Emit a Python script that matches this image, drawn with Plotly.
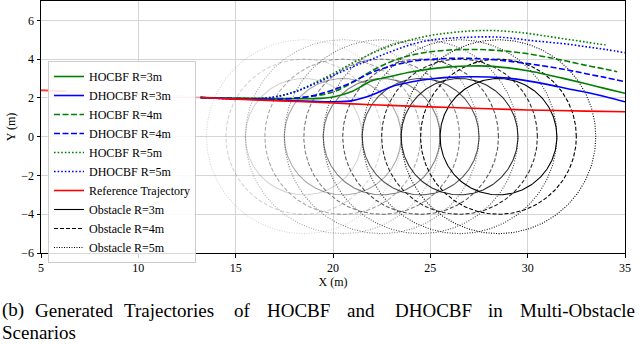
import numpy as np
import plotly.graph_objects as go

# trajectories (x in m, y in m)
traj_x = [13.2, 14, 15, 16, 17, 18, 19, 20, 21, 22, 23, 24, 25, 26, 27, 28, 29, 30, 31, 32, 33, 34, 35]
hocbf_r3 = [2.02, 2.0, 1.98, 1.97, 1.96, 1.96, 1.96, 2.05, 2.35, 2.88, 3.12, 3.34, 3.5, 3.6, 3.65, 3.64, 3.55, 3.4, 3.2, 2.97, 2.73, 2.48, 2.24]
dhocbf_r3 = [2.02, 1.99, 1.95, 1.92, 1.88, 1.85, 1.82, 1.8, 1.86, 2.15, 2.58, 2.82, 2.98, 3.06, 3.09, 3.08, 3.02, 2.88, 2.7, 2.49, 2.29, 2.06, 1.8]
hocbf_r4 = [2.02, 2.0, 1.98, 1.97, 1.97, 1.98, 2.1, 2.3, 2.8, 3.4, 3.88, 4.2, 4.38, 4.47, 4.5, 4.48, 4.4, 4.28, 4.1, 3.9, 3.68, 3.48, 3.35]
hocbf_r4_x = traj_x[:-1] + [34.6]
dhocbf_r4 = [2.02, 2.0, 1.97, 1.95, 1.93, 1.98, 2.12, 2.41, 2.82, 3.32, 3.65, 3.88, 3.99, 4.04, 4.04, 4.0, 3.9, 3.77, 3.62, 3.45, 3.25, 3.05, 2.84]
hocbf_r5 = [2.02, 2.0, 1.98, 1.98, 2.05, 2.3, 2.75, 3.25, 3.8, 4.3, 4.7, 5.0, 5.22, 5.36, 5.45, 5.48, 5.43, 5.33, 5.18, 5.03, 4.88, 4.73]
hocbf_r5_x = traj_x[:-1]
dhocbf_r5 = [2.02, 1.98, 1.94, 1.94, 2.05, 2.3, 2.7, 3.15, 3.6, 4.0, 4.4, 4.75, 4.98, 5.08, 5.13, 5.15, 5.1, 4.98, 4.88, 4.78, 4.64, 4.5, 4.33]

ref_x = [13.2, 15, 17, 20, 22, 25, 28, 30, 33, 35]
ref_y = [2.02, 1.94, 1.86, 1.74, 1.65, 1.54, 1.44, 1.38, 1.32, 1.29]
ref_hist_x = [5, 6.3, 13.2]
ref_hist_y = [2.4, 2.34, 2.02]

# obstacles: centre moves along x, y = 0
obs_cx = [18.5, 20.5, 22.5, 24.5, 26.5, 28.5]
obs_cy = 0
obs_radii = [3, 4, 5]

caption_1 = ["(b)", "Generated", "Trajectories", "of", "HOCBF", "and", "DHOCBF", "in", "Multi-Obstacle"]
caption_2 = ["Scenarios"]

FONT = "Liberation Serif, Times New Roman, serif"
W, H = 640, 344
ML, MR, MT, MB = 41, 15, 1, 91
PW, PH = W - ML - MR, H - MT - MB

fig = go.Figure()

obs_dash = {3: "solid", 4: "4px,2px", 5: "1px,1.5px"}
theta = np.linspace(0, 2 * np.pi, 240)
for r in obs_radii:
    n = len(obs_cx)
    for k, cx in enumerate(obs_cx):
        a = (k + 1) / n
        last = k == n - 1
        fig.add_trace(go.Scatter(
            x=cx + r * np.cos(theta), y=obs_cy + r * np.sin(theta), mode="lines",
            line=dict(color=f"rgba(0,0,0,{a:.3f})", width=1.1, dash=obs_dash[r]),
            name=f"Obstacle R={r}m", showlegend=last, legendrank=100 + r,
            hoverinfo="skip"))

fig.add_trace(go.Scatter(x=ref_hist_x[:2], y=ref_hist_y[:2], mode="lines",
                         line=dict(color="rgba(255,0,0,0.75)", width=2), showlegend=False))
fig.add_trace(go.Scatter(x=ref_hist_x[1:], y=ref_hist_y[1:], mode="lines",
                         line=dict(color="rgba(255,0,0,0.2)", width=2.5), showlegend=False))

series = [
    ("HOCBF R=3m", traj_x, hocbf_r3, "green", "solid"),
    ("DHOCBF R=3m", traj_x, dhocbf_r3, "blue", "solid"),
    ("HOCBF R=4m", hocbf_r4_x, hocbf_r4, "green", "6px,2.5px"),
    ("DHOCBF R=4m", traj_x, dhocbf_r4, "blue", "6px,2.5px"),
    ("HOCBF R=5m", hocbf_r5_x, hocbf_r5, "green", "1.6px,2px"),
    ("DHOCBF R=5m", traj_x, dhocbf_r5, "blue", "1.6px,2px"),
]
for i, (name, xs, ys, col, dash) in enumerate(series):
    fig.add_trace(go.Scatter(x=xs, y=ys, mode="lines", name=name, legendrank=i + 1,
                             line=dict(color=col, width=1.6, dash=dash, shape="spline")))

fig.add_trace(go.Scatter(x=ref_x, y=ref_y, mode="lines", name="Reference Trajectory",
                         legendrank=50, line=dict(color="red", width=1.6, shape="spline")))

ax = dict(showline=True, linecolor="black", linewidth=1, mirror=True, automargin=False,
          ticks="outside", ticklen=3.5, tickcolor="black", showgrid=True,
          gridcolor="#d4d4d4", gridwidth=1.3, zeroline=False,
          tickfont=dict(family=FONT, size=12, color="black"))
fig.update_xaxes(range=[5, 35], dtick=5, title=dict(text="X (m)", standoff=2,
                 font=dict(family=FONT, size=12, color="black")), **ax)
fig.update_yaxes(range=[-6, 7], tickvals=[-6, -4, -2, 0, 2, 4, 6], title=dict(text="Y (m)", standoff=3,
                 font=dict(family=FONT, size=12, color="black")), **ax)

# caption words, left edges in px
cap1_px = [0, 33, 122, 232, 265, 345, 393, 486, 518]
for word, px in zip(caption_1, cap1_px):
    fig.add_annotation(text=word, xref="paper", yref="paper", x=(px - ML) / PW, y=(H - MB - 310) / PH,
                       xanchor="left", yanchor="middle", showarrow=False,
                       font=dict(family=FONT, size=19, color="black"))
fig.add_annotation(text=caption_2[0], xref="paper", yref="paper", x=(0 - ML) / PW, y=(H - MB - 332) / PH,
                   xanchor="left", yanchor="middle", showarrow=False,
                   font=dict(family=FONT, size=19, color="black"))

fig.update_layout(
    width=W, height=H, margin=dict(l=ML, r=MR, t=MT, b=MB),
    plot_bgcolor="white", paper_bgcolor="white",
    font=dict(family=FONT, color="black"),
    legend=dict(x=(48 - ML) / PW, y=(H - MB - 61) / PH, xanchor="left", yanchor="top",
                bgcolor="rgba(255,255,255,0.85)", bordercolor="#cccccc", borderwidth=1,
                font=dict(family=FONT, size=12, color="black"), itemwidth=30,
                tracegroupgap=0),
    showlegend=True,
)

fig.write_html("out.html", config={"displayModeBar": False},
               post_script="document.body.style.margin='0';")
